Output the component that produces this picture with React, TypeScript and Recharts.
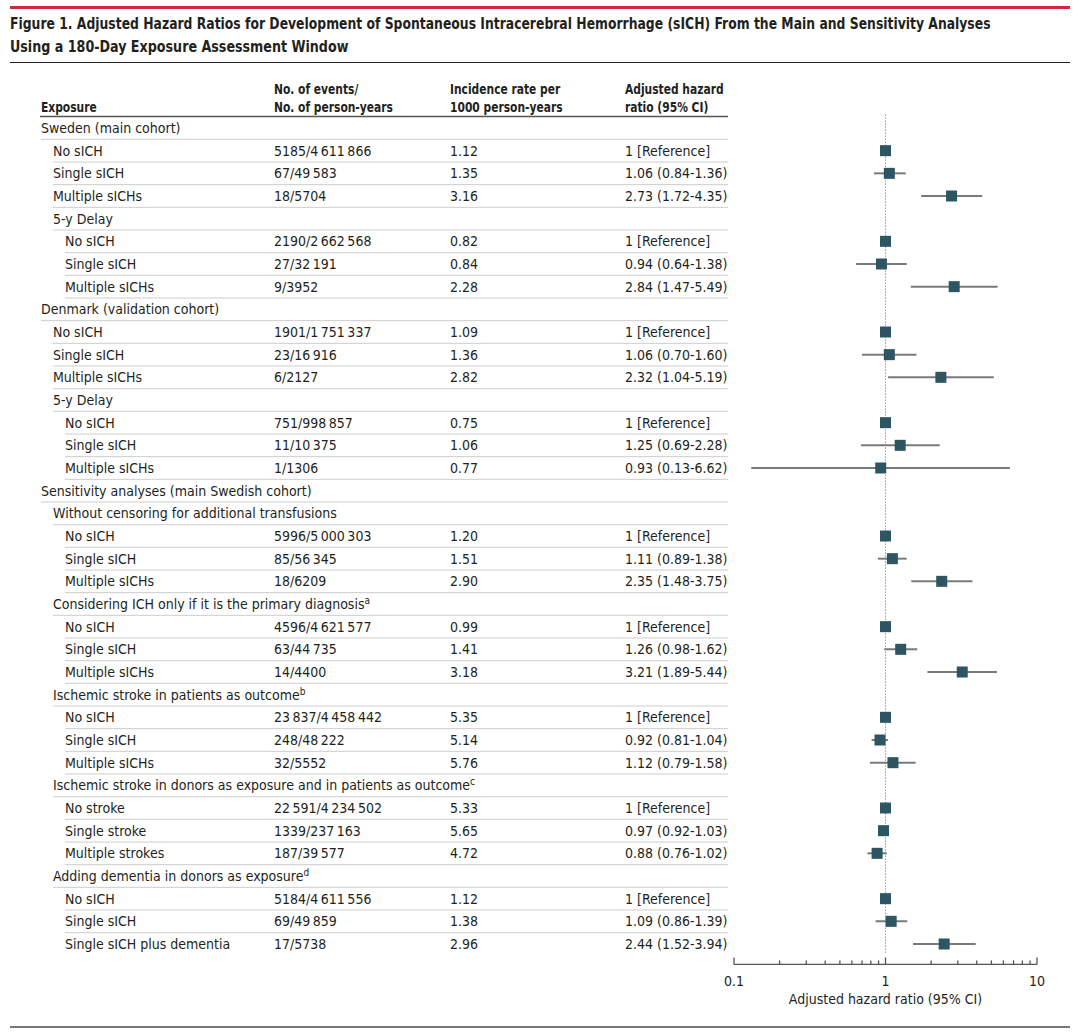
import { ScatterChart, Scatter, XAxis, YAxis, ErrorBar, ReferenceLine } from 'recharts';

// Table rows (top to bottom)
const labels = [
  'Sweden (main cohort)', 'No sICH', 'Single sICH', 'Multiple sICHs', '5-y Delay', 'No sICH', 'Single sICH', 'Multiple sICHs',
  'Denmark (validation cohort)', 'No sICH', 'Single sICH', 'Multiple sICHs', '5-y Delay', 'No sICH', 'Single sICH', 'Multiple sICHs',
  'Sensitivity analyses (main Swedish cohort)', 'Without censoring for additional transfusions', 'No sICH', 'Single sICH', 'Multiple sICHs',
  'Considering ICH only if it is the primary diagnosis', 'No sICH', 'Single sICH', 'Multiple sICHs',
  'Ischemic stroke in patients as outcome', 'No sICH', 'Single sICH', 'Multiple sICHs',
  'Ischemic stroke in donors as exposure and in patients as outcome', 'No stroke', 'Single stroke', 'Multiple strokes',
  'Adding dementia in donors as exposure', 'No sICH', 'Single sICH', 'Single sICH plus dementia',
];
const levels = [0, 1, 1, 1, 1, 2, 2, 2, 0, 1, 1, 1, 1, 2, 2, 2, 0, 1, 2, 2, 2, 1, 2, 2, 2, 1, 2, 2, 2, 1, 2, 2, 2, 1, 2, 2, 2];
const notes: Record<number, string> = { 21: 'a', 25: 'b', 29: 'c', 33: 'd' };

const T = '\u2009';
const events = [
  '', `5185/4${T}611${T}866`, `67/49${T}583`, '18/5704', '', `2190/2${T}662${T}568`, `27/32${T}191`, '9/3952',
  '', `1901/1${T}751${T}337`, `23/16${T}916`, '6/2127', '', `751/998${T}857`, `11/10${T}375`, '1/1306',
  '', '', `5996/5${T}000${T}303`, `85/56${T}345`, '18/6209',
  '', `4596/4${T}621${T}577`, `63/44${T}735`, '14/4400',
  '', `23${T}837/4${T}458${T}442`, `248/48${T}222`, '32/5552',
  '', `22${T}591/4${T}234${T}502`, `1339/237${T}163`, `187/39${T}577`,
  '', `5184/4${T}611${T}556`, `69/49${T}859`, '17/5738',
];
const rates = [
  '', '1.12', '1.35', '3.16', '', '0.82', '0.84', '2.28',
  '', '1.09', '1.36', '2.82', '', '0.75', '1.06', '0.77',
  '', '', '1.20', '1.51', '2.90',
  '', '0.99', '1.41', '3.18',
  '', '5.35', '5.14', '5.76',
  '', '5.33', '5.65', '4.72',
  '', '1.12', '1.38', '2.96',
];
const hrText = [
  '', '1 [Reference]', '1.06 (0.84-1.36)', '2.73 (1.72-4.35)', '', '1 [Reference]', '0.94 (0.64-1.38)', '2.84 (1.47-5.49)',
  '', '1 [Reference]', '1.06 (0.70-1.60)', '2.32 (1.04-5.19)', '', '1 [Reference]', '1.25 (0.69-2.28)', '0.93 (0.13-6.62)',
  '', '', '1 [Reference]', '1.11 (0.89-1.38)', '2.35 (1.48-3.75)',
  '', '1 [Reference]', '1.26 (0.98-1.62)', '3.21 (1.89-5.44)',
  '', '1 [Reference]', '0.92 (0.81-1.04)', '1.12 (0.79-1.58)',
  '', '1 [Reference]', '0.97 (0.92-1.03)', '0.88 (0.76-1.02)',
  '', '1 [Reference]', '1.09 (0.86-1.39)', '2.44 (1.52-3.94)',
];
const N = null;
const hrValues = [
  N, 1, 1.06, 2.73, N, 1, 0.94, 2.84,
  N, 1, 1.06, 2.32, N, 1, 1.25, 0.93,
  N, N, 1, 1.11, 2.35,
  N, 1, 1.26, 3.21,
  N, 1, 0.92, 1.12,
  N, 1, 0.97, 0.88,
  N, 1, 1.09, 2.44,
];
const ciLow = [
  N, N, 0.84, 1.72, N, N, 0.64, 1.47,
  N, N, 0.70, 1.04, N, N, 0.69, 0.13,
  N, N, N, 0.89, 1.48,
  N, N, 0.98, 1.89,
  N, N, 0.81, 0.79,
  N, N, 0.92, 0.76,
  N, N, 0.86, 1.52,
];
const ciHigh = [
  N, N, 1.36, 4.35, N, N, 1.38, 5.49,
  N, N, 1.60, 5.19, N, N, 2.28, 6.62,
  N, N, N, 1.38, 3.75,
  N, N, 1.62, 5.44,
  N, N, 1.04, 1.58,
  N, N, 1.03, 1.02,
  N, N, 1.39, 3.94,
];
const xTicks = [0.1, 0.2, 0.3, 0.4, 0.5, 0.6, 0.7, 0.8, 0.9, 1, 2, 3, 4, 5, 6, 7, 8, 9, 10];
const xLabels = [0.1, 1, 10];

const points = hrValues
  .map((v, i) => (v == null ? null : { row: i, hr: v }))
  .filter(Boolean) as { row: number; hr: number }[];
const ciPoints = points
  .filter((p) => ciLow[p.row] != null)
  .map((p) => ({ ...p, err: [p.hr - (ciLow[p.row] as number), (ciHigh[p.row] as number) - p.hr] }));

const FONT = "'Liberation Sans Narrow', 'DejaVu Sans Condensed', sans-serif";
const TEXT = '#231f20';
const indentX = [41, 53, 65];
const COLS = [274, 450, 625];
const TABLE_RIGHT = 728;
const ROW_H = 22.67;

// text squeezed horizontally like the journal's condensed face
function Narrow({ x, y, sx = 0.85, children }: { x: number; y: number; sx?: number; children: string }) {
  return (
    <text transform={`translate(${x} ${y}) scale(${sx} 1)`}>{children}</text>
  );
}

function RowTick(props: any) {
  const { y, payload } = props;
  const i = payload.value as number;
  const lx = indentX[levels[i]];
  return (
    <g fontFamily={FONT} fontSize={14} fill={TEXT}>
      <text x={lx} y={y + 5}>
        {labels[i]}
        {notes[i] && (
          <tspan dy={-5} fontSize={10}>
            {notes[i]}
          </tspan>
        )}
      </text>
      <text x={COLS[0]} y={y + 5}>{events[i]}</text>
      <text x={COLS[1]} y={y + 5}>{rates[i]}</text>
      <text x={COLS[2]} y={y + 5}>{hrText[i]}</text>
      {i < labels.length - 1 && (
        <line x1={lx} x2={TABLE_RIGHT} y1={y + ROW_H / 2} y2={y + ROW_H / 2} stroke="#cdcdcd" strokeWidth={1} />
      )}
    </g>
  );
}

function HrTick(props: any) {
  const { x, y, payload } = props;
  const major = xLabels.includes(payload.value);
  return (
    <g>
      <line x1={x} x2={x} y1={y} y2={y - (major ? 7 : 4)} stroke="#555" strokeWidth={1.3} />
      {major && (
        <text x={x} y={y + 22} textAnchor="middle" fontFamily={FONT} fontSize={14} fill={TEXT}>
          {payload.value}
        </text>
      )}
    </g>
  );
}

const Square = (props: any) => (
  <rect x={props.cx - 5.5} y={props.cy - 5.5} width={11} height={11} fill="#2d5662" />
);
const NoShape = () => <g />;

export default function App() {
  return (
    <div style={{ position: 'absolute', left: 0, top: 0, width: 1080, height: 1036, background: '#fff' }}>
      <ScatterChart width={1080} height={1036} margin={{ top: 114.4, right: 43, bottom: 31.6, left: 0 }}>
        <XAxis
          type="number"
          dataKey="hr"
          scale="log"
          domain={[0.1, 10]}
          allowDataOverflow
          ticks={xTicks}
          interval={0}
          tick={<HrTick />}
          tickLine={false}
          tickSize={0}
          tickMargin={0}
          height={40}
          axisLine={{ stroke: '#555', strokeWidth: 1.3 }}
          label={{ value: 'Adjusted hazard ratio (95% CI)', position: 'insideBottom', offset: 0, fontFamily: FONT, fontSize: 14, fill: TEXT }}
        />
        <YAxis
          type="number"
          dataKey="row"
          domain={[-0.6, 36.9]}
          reversed
          allowDataOverflow
          ticks={labels.map((_, i) => i)}
          interval={0}
          tick={<RowTick />}
          tickLine={false}
          axisLine={false}
          width={734}
        />
        <ReferenceLine
          segment={[{ x: 1, y: -0.6 }, { x: 1, y: 36.45 }]}
          stroke="#9a9a9a"
          strokeDasharray="1.5 1.5"
          strokeWidth={1}
        />
        <Scatter data={ciPoints} shape={<NoShape />} isAnimationActive={false}>
          <ErrorBar dataKey="err" direction="x" width={0} stroke="#7a7a7a" strokeWidth={2} isAnimationActive={false} />
        </Scatter>
        <Scatter data={points} shape={<Square />} isAnimationActive={false} />
      </ScatterChart>
      <svg width={1080} height={1036} style={{ position: 'absolute', left: 0, top: 0, pointerEvents: 'none' }}>
        <line x1={10} x2={1070} y1={7.5} y2={7.5} stroke="#cc2a41" strokeWidth={3} />
        <g fontFamily={FONT} fontWeight="bold" fontSize={16.5} fill={TEXT}>
          <Narrow x={10} y={29} sx={0.835}>
            Figure 1. Adjusted Hazard Ratios for Development of Spontaneous Intracerebral Hemorrhage (sICH) From the Main and Sensitivity Analyses
          </Narrow>
          <Narrow x={10} y={52} sx={0.856}>
            Using a 180-Day Exposure Assessment Window
          </Narrow>
        </g>
        <line x1={10} x2={1070} y1={62.5} y2={62.5} stroke="#222" strokeWidth={1} />
        <g fontFamily={FONT} fontWeight="bold" fontSize={14} fill={TEXT}>
          <Narrow x={41} y={112}>Exposure</Narrow>
          <Narrow x={COLS[0]} y={94}>No. of events/</Narrow>
          <Narrow x={COLS[0]} y={112}>No. of person-years</Narrow>
          <Narrow x={COLS[1]} y={94}>Incidence rate per</Narrow>
          <Narrow x={COLS[1]} y={112}>1000 person-years</Narrow>
          <Narrow x={COLS[2]} y={94}>Adjusted hazard</Narrow>
          <Narrow x={COLS[2]} y={112}>ratio (95% CI)</Narrow>
        </g>
        <line x1={40} x2={TABLE_RIGHT} y1={116.5} y2={116.5} stroke="#555" strokeWidth={1.5} />
        <line x1={10} x2={1070} y1={1027} y2={1027} stroke="#777" strokeWidth={2} />
      </svg>
    </div>
  );
}
